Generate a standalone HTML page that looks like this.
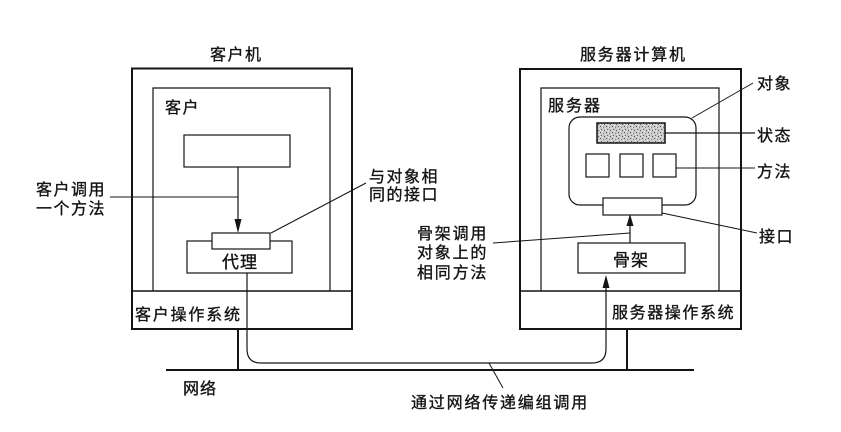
<!DOCTYPE html>
<html>
<head>
<meta charset="utf-8">
<style>
html,body{margin:0;padding:0;background:#fff;}
svg{display:block;}
text{font-family:"Liberation Sans","Noto Sans CJK SC",sans-serif;fill:#141414;font-size:16px;stroke:#141414;stroke-width:0.35px;}
</style>
</head>
<body>
<svg width="841" height="432" viewBox="0 0 841 432" xmlns="http://www.w3.org/2000/svg">
<defs>
<pattern id="spk" width="6" height="6" patternUnits="userSpaceOnUse">
<rect width="6" height="6" fill="#c8c8c8"/>
<rect x="0" y="0" width="1" height="1" fill="#555"/>
<rect x="3" y="1" width="1" height="1" fill="#777"/>
<rect x="1" y="3" width="1" height="1" fill="#666"/>
<rect x="4" y="4" width="1" height="1" fill="#555"/>
<rect x="2" y="5" width="1" height="1" fill="#f0f0f0"/>
<rect x="5" y="2" width="1" height="1" fill="#f0f0f0"/>
<rect x="2" y="1" width="1" height="1" fill="#eee"/>
<rect x="0" y="4" width="1" height="1" fill="#eee"/>
</pattern>
</defs>

<g fill="none" stroke="#141414">
<!-- Client machine -->
<rect x="132" y="68.5" width="220" height="260.5" stroke-width="2"/>
<path d="M153 291 V88 H330 V291" stroke-width="1.2"/>
<line x1="132" y1="291" x2="352" y2="291" stroke-width="1.5"/>
<rect x="184" y="135" width="106" height="32" stroke-width="1.2"/>
<line x1="238" y1="167" x2="238" y2="222" stroke-width="1.2"/>
<line x1="110" y1="197" x2="238" y2="197" stroke-width="1"/>
<rect x="187" y="241" width="105" height="32" stroke-width="1.2"/>
<rect x="212" y="233" width="58" height="16" fill="#fff" stroke-width="1.2"/>
<line x1="271" y1="233" x2="366" y2="183" stroke-width="1"/>

<!-- Server machine -->
<rect x="520" y="69" width="221" height="260" stroke-width="2"/>
<path d="M541 291 V88 H719 V291" stroke-width="1.2"/>
<line x1="520" y1="291" x2="741" y2="291" stroke-width="1.5"/>
<rect x="569" y="117" width="127" height="88" rx="11" ry="11" stroke-width="1.2"/>
<rect x="597" y="123" width="68" height="20" fill="url(#spk)" stroke-width="1.5"/>
<rect x="586" y="154" width="23" height="23" stroke-width="1.2"/>
<rect x="620" y="154" width="23" height="23" stroke-width="1.2"/>
<rect x="653" y="154" width="23" height="23" stroke-width="1.2"/>
<rect x="603" y="198" width="59" height="17" fill="#fff" stroke-width="1.2"/>
<line x1="630" y1="243" x2="630" y2="224" stroke-width="1.2"/>
<rect x="578" y="243" width="107" height="30" stroke-width="1.2"/>
<line x1="493" y1="243" x2="630" y2="233" stroke-width="1"/>
<line x1="692" y1="118" x2="753" y2="83" stroke-width="1"/>
<line x1="665" y1="133" x2="755" y2="133" stroke-width="1.2"/>
<line x1="676" y1="168" x2="755" y2="168" stroke-width="1"/>
<line x1="662" y1="213" x2="757" y2="233" stroke-width="1"/>

<!-- Marshalled call path -->
<path d="M247 273 V349 Q247 363 261 363 H592 Q606 363 606 349 V284" stroke-width="1.2"/>
<line x1="489" y1="363" x2="503" y2="388" stroke-width="1"/>

<!-- Network -->
<line x1="238" y1="329" x2="238" y2="370" stroke-width="2"/>
<line x1="627" y1="329" x2="627" y2="370" stroke-width="2"/>
<line x1="166" y1="370" x2="694" y2="370" stroke-width="2"/>
</g>

<!-- Arrowheads -->
<g fill="#141414" stroke="none">
<polygon points="234.5,219 241.5,219 238,233"/>
<polygon points="626.5,226 633.5,226 630,214"/>
<polygon points="602.5,288 609.5,288 606,275"/>
</g>

<!-- Labels -->
<text x="210" y="60" letter-spacing="1.5">客户机</text>
<text x="165" y="113" letter-spacing="1.5">客户</text>
<text x="36" y="195" letter-spacing="1.5">客户调用</text>
<text x="36" y="214" letter-spacing="1.5">一个方法</text>
<text x="369" y="182" letter-spacing="1.5">与对象相</text>
<text x="369" y="200" letter-spacing="1.5">同的接口</text>
<text x="222" y="268" letter-spacing="1" style="font-size:17px">代理</text>
<text x="135" y="320" letter-spacing="1.8">客户操作系统</text>
<text x="183" y="394" letter-spacing="1">网络</text>
<text x="411" y="408" letter-spacing="1.8">通过网络传递编组调用</text>

<text x="580" y="60" letter-spacing="1.8">服务器计算机</text>
<text x="548" y="111" letter-spacing="2">服务器</text>
<text x="757" y="89" letter-spacing="1.5">对象</text>
<text x="757" y="141" letter-spacing="1.5">状态</text>
<text x="757" y="177" letter-spacing="1.5">方法</text>
<text x="759" y="242" letter-spacing="1.5">接口</text>
<text x="613" y="266" letter-spacing="1" style="font-size:17px">骨架</text>
<text x="417" y="239" letter-spacing="1.8">骨架调用</text>
<text x="417" y="258" letter-spacing="1.8">对象上的</text>
<text x="417" y="278" letter-spacing="1.8">相同方法</text>
<text x="612" y="318" letter-spacing="1.6">服务器操作系统</text>
</svg>
</body>
</html>
